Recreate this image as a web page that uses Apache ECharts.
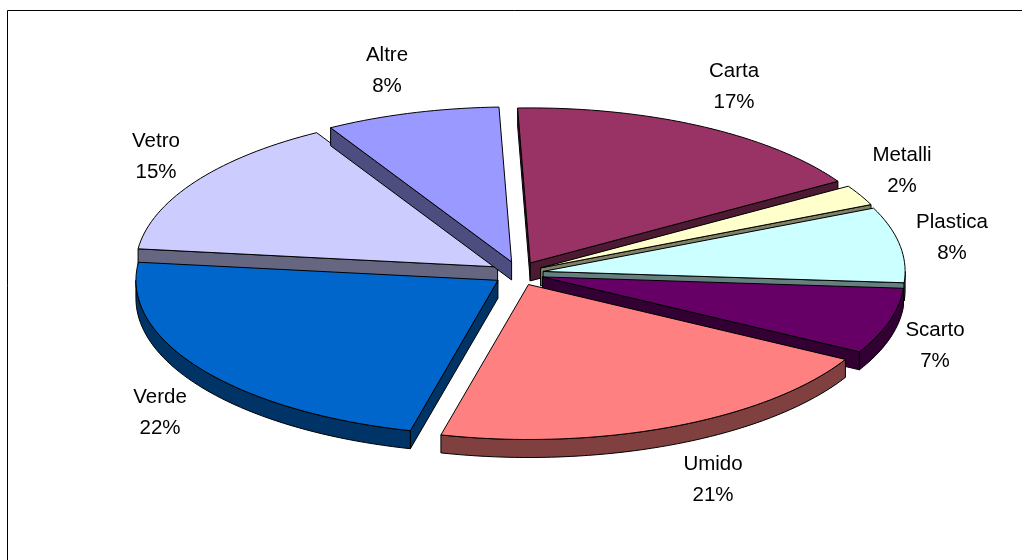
<!DOCTYPE html>
<html>
<head>
<meta charset="utf-8">
<style>html,body{margin:0;padding:0;background:#fff}#c{width:1022px;height:560px}</style>
<script src="https://cdn.jsdelivr.net/npm/echarts@6/dist/echarts.min.js"></script>
</head>
<body>
<div id="c"></div>
<script>
// Data
const categories = ['Carta', 'Metalli', 'Plastica', 'Scarto', 'Umido', 'Verde', 'Vetro', 'Altre'];
const percents = [17, 2, 8, 7, 21, 22, 15, 8];

// Appearance
const topColors = ['#993366', '#ffffcc', '#ccffff', '#660066', '#ff8080', '#0066cc', '#ccccff', '#9999ff'];
const wallColors = ['#4d1a33', '#808066', '#668080', '#330033', '#804040', '#003366', '#666680', '#4d4d80'];
const paintOrder = [0, 1, 2, 3, 4, 6, 7, 5];         // index into categories, painted back to front
const labelCentres = [[734, 87], [902, 171], [952, 238], [935, 346], [713, 480], [160, 413], [156, 157], [387, 71]];
// perspective of the tilted disc: how far each slice's closing edge moves, in degrees
const perspectiveShift = [-1, -0.5, -1, -1.5, -2, 1.5, 0.8, 0];

// Pie geometry
const CX = 518.5, CY = 273.5, RX = 362, RY = 155, DEPTH = 18, EX = 25, EY = 12, START = -2;
const total = percents.reduce((a, b) => a + b, 0);
const rad = d => d * Math.PI / 180;
const edgeAngle = n => {           // angle of the closing edge of slice n-1 (n = 0: the start)
  let sum = 0;
  for (let k = 0; k < n; k++) sum += percents[k];
  return START + sum / total * 360 + (n > 0 ? perspectiveShift[n - 1] : 0);
};

function renderSlice(params, api) {
  const i = params.dataIndex;
  const value = api.value(0);
  const t0 = edgeAngle(i), t1 = edgeAngle(i + 1);
  const mid = rad((t0 + t1) / 2);
  const ax = CX + EX * Math.sin(mid), ay = CY - EY * Math.cos(mid);
  const pt = t => [ax + RX * Math.sin(rad(t)), ay - RY * Math.cos(rad(t))];
  const arc = (a, b) => {
    const n = Math.max(2, Math.ceil(Math.abs(b - a) / 1.5));
    const out = [];
    for (let k = 0; k <= n; k++) out.push(pt(a + (b - a) * k / n));
    return out;
  };
  const rank = paintOrder.indexOf(i);
  const side = { fill: wallColors[i], stroke: '#000', lineWidth: 1, lineJoin: 'round' };
  const children = [];
  let z = rank * 10;
  const addWall = points => children.push({ type: 'polygon', z2: z++, shape: { points }, style: side });
  const radialWall = t => {
    const e = pt(t);
    addWall([[ax, ay], e, [e[0], e[1] + DEPTH], [ax, ay + DEPTH]]);
  };
  // cut faces that turn toward the viewer
  if (Math.sin(rad(t0)) < 0) radialWall(t0);
  if (Math.sin(rad(t1)) > 0) radialWall(t1);
  // outer rim, front half only
  const ra = Math.max(t0, 90), rb = Math.min(t1, 270);
  if (rb > ra) {
    const a = arc(ra, rb);
    addWall(a.concat(a.slice().reverse().map(p => [p[0], p[1] + DEPTH])));
  }
  // top face
  children.push({
    type: 'polygon', z2: z++,
    shape: { points: [[ax, ay]].concat(arc(t0, t1)) },
    style: { fill: topColors[i], stroke: '#000', lineWidth: 1, lineJoin: 'round' }
  });
  // label
  children.push({
    type: 'text', z2: 1000,
    style: {
      x: labelCentres[i][0], y: labelCentres[i][1],
      text: categories[i] + '\n' + value + '%',
      fill: '#000', font: '20.5px "Liberation Sans", Arial, sans-serif',
      lineHeight: 31, align: 'center', verticalAlign: 'middle'
    }
  });
  return { type: 'group', children };
}

const chart = echarts.init(document.getElementById('c'), null, { renderer: 'canvas' });
chart.setOption({
  animation: false,
  backgroundColor: '#fff',
  graphic: [
    { type: 'line', shape: { x1: 7.5, y1: 10.5, x2: 1022, y2: 10.5 }, style: { stroke: '#000', lineWidth: 1 } },
    { type: 'line', shape: { x1: 7.5, y1: 10.5, x2: 7.5, y2: 560 }, style: { stroke: '#000', lineWidth: 1 } }
  ],
  series: [{
    type: 'custom',
    coordinateSystem: 'none',
    renderItem: renderSlice,
    data: percents.map((v, i) => ({ name: categories[i], value: [v] }))
  }]
});
</script>
</body>
</html>
